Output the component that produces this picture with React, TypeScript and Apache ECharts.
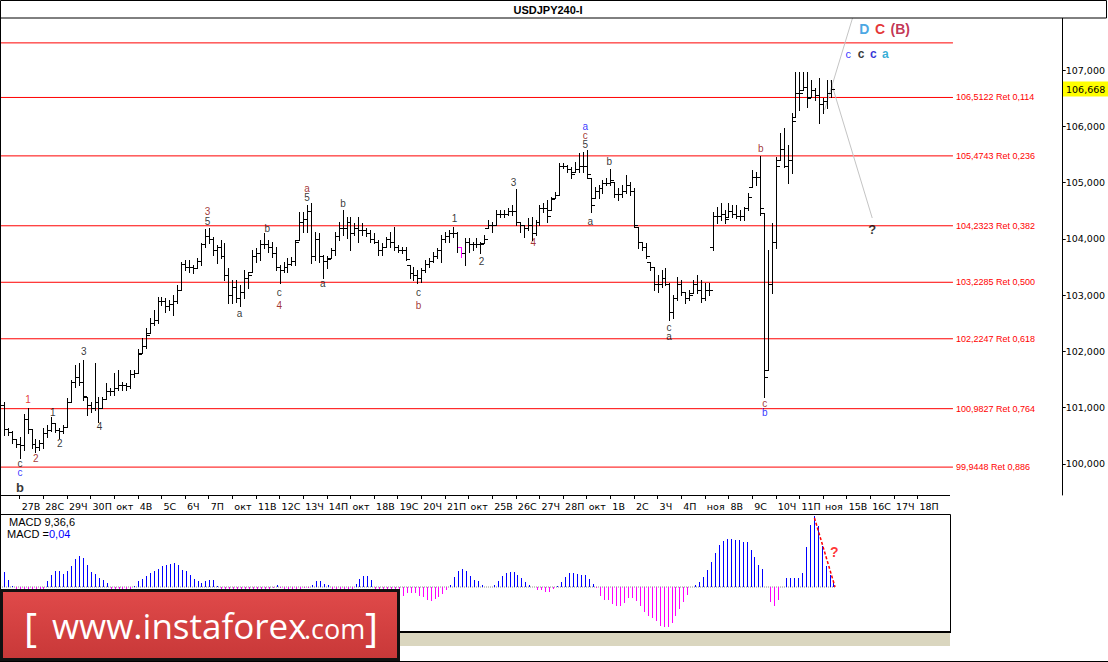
import React, { useEffect, useRef } from "react";
import * as echarts from "echarts";

// ---------- data ----------
const dayLabels = ["27В","28С","29Ч","30П","окт","4В","5С","6Ч","7П","окт","11В","12С","13Ч","14П","окт","18В","19С","20Ч","21П","окт","25В","26С","27Ч","28П","окт","1В","2С","3Ч","4П","ноя","8В","9С","10Ч","11П","ноя","15В","16С","17Ч","18П"];
const firstDayBar = 4;
const barsPerDay = 6;
const priceTicks = [100, 101, 102, 103, 104, 105, 106, 107];

const opens = [
101.05,100.62,100.56,100.45,100.35,100.33,100.80,100.62,100.35,100.30,
100.38,100.55,100.60,100.72,100.60,100.58,100.66,101.10,101.45,101.55,
101.45,101.19,101.05,101.00,101.10,101.00,101.15,101.30,101.30,101.35,
101.40,101.40,101.38,101.60,101.62,101.97,102.10,102.33,102.50,102.55,
102.90,102.90,102.80,102.85,102.90,103.10,103.55,103.50,103.50,103.48,
103.60,103.90,104.05,104.00,103.80,103.85,103.70,103.35,103.00,103.15,
102.95,103.05,103.30,103.41,103.70,103.75,103.90,103.90,103.85,103.75,
103.50,103.45,103.50,103.55,103.60,103.98,104.30,104.35,104.50,103.70,
104.00,103.70,103.60,103.66,103.80,104.05,104.20,104.20,104.30,104.10,
104.20,104.15,104.15,104.10,104.00,103.95,103.80,103.86,104.00,103.95,
103.85,103.80,103.80,103.54,103.40,103.35,103.30,103.45,103.55,103.60,
103.70,103.80,104.00,104.05,104.10,104.10,103.85,103.75,103.95,103.90,
103.90,103.90,103.93,104.19,104.25,104.25,104.45,104.45,104.45,104.50,
104.50,104.30,104.25,104.20,104.25,104.10,104.30,104.55,104.55,104.51,
104.73,104.78,105.30,105.30,105.25,105.19,105.25,105.30,105.30,105.08,
104.73,104.85,104.90,105.00,105.00,105.01,104.80,104.80,104.85,104.95,
104.85,104.21,103.95,103.85,103.59,103.50,103.20,103.20,103.30,103.20,
102.70,102.95,103.20,103.05,102.95,103.04,103.20,103.10,102.95,103.10,
103.85,104.40,104.40,104.45,104.39,104.50,104.45,104.40,104.40,104.55,
104.92,105.10,105.10,104.46,101.67,103.20,103.95,105.40,105.60,105.30,
105.40,106.17,106.60,106.64,106.70,106.52,106.65,106.55,106.40,106.45,
106.60];
const highs = [
101.10,100.64,100.58,100.45,100.48,100.89,101.00,100.62,100.45,100.43,
100.64,100.70,100.84,100.72,100.64,100.70,101.17,101.49,101.76,101.80,
101.85,101.19,101.10,101.80,101.19,101.19,101.44,101.35,101.62,101.67,
101.46,101.44,101.67,101.67,102.05,102.24,102.42,102.60,102.74,102.97,
102.97,102.95,102.91,103.00,103.18,103.59,103.63,103.63,103.54,103.66,
103.93,104.18,104.19,104.03,103.89,103.98,103.93,103.48,103.27,103.27,
103.18,103.45,103.41,103.80,103.84,103.98,104.11,103.98,103.95,103.86,
103.54,103.59,103.66,103.68,103.98,104.48,104.48,104.60,104.64,104.12,
104.11,103.71,103.70,103.84,104.12,104.30,104.51,104.39,104.39,104.28,
104.39,104.28,104.19,104.16,104.11,103.98,103.93,104.03,104.12,104.21,
103.89,103.86,103.86,103.54,103.50,103.45,103.48,103.63,103.66,103.77,
103.84,104.07,104.12,104.16,104.21,104.12,103.86,104.02,104.02,103.95,
104.02,103.95,104.07,104.34,104.30,104.51,104.51,104.51,104.55,104.60,
104.89,104.30,104.25,104.37,104.39,104.34,104.60,104.64,104.69,104.74,
104.83,105.35,105.35,105.31,105.28,105.37,105.53,105.54,105.58,105.08,
104.92,104.95,105.05,105.08,105.24,105.01,104.90,104.95,105.14,105.01,
104.90,104.21,103.95,103.93,103.59,103.50,103.36,103.45,103.48,103.22,
103.00,103.32,103.27,103.06,103.09,103.27,103.36,103.27,103.22,103.22,
104.48,104.57,104.64,104.51,104.64,104.60,104.60,104.51,104.57,104.82,
105.22,105.19,105.47,104.46,103.80,104.28,105.45,105.88,105.97,105.67,
106.24,106.96,106.96,106.96,106.96,106.82,106.68,106.86,106.50,106.82,
106.82];
const lows = [
100.52,100.52,100.38,100.30,100.11,100.25,100.55,100.29,100.22,100.25,
100.29,100.48,100.58,100.57,100.46,100.55,100.66,101.10,101.37,101.40,
101.14,100.87,100.93,100.96,100.75,101.00,101.15,101.23,101.23,101.32,
101.32,101.32,101.35,101.55,101.62,101.97,102.06,102.33,102.47,102.51,
102.83,102.70,102.74,102.65,102.86,103.09,103.45,103.41,103.39,103.48,
103.54,103.86,103.93,103.71,103.57,103.66,103.27,102.86,102.86,102.88,
102.81,102.95,103.13,103.41,103.59,103.63,103.84,103.77,103.68,103.45,
103.22,103.41,103.41,103.54,103.54,103.98,104.12,104.12,103.57,103.63,
103.59,103.30,103.48,103.66,103.71,103.98,104.07,104.02,103.80,104.07,
103.95,104.07,104.05,103.95,103.93,103.71,103.71,103.86,103.86,103.80,
103.77,103.75,103.63,103.30,103.27,103.22,103.24,103.41,103.50,103.59,
103.66,103.59,103.95,103.95,104.03,103.77,103.68,103.54,103.77,103.80,
103.86,103.75,103.93,104.19,104.12,104.25,104.39,104.39,104.43,104.43,
104.25,104.12,104.03,104.16,103.98,104.07,104.25,104.48,104.30,104.51,
104.73,104.78,105.26,105.19,105.08,105.19,105.19,105.19,105.08,104.48,
104.73,104.73,104.82,104.96,104.96,104.74,104.69,104.74,104.82,104.78,
104.21,103.84,103.80,103.66,103.45,103.09,103.06,103.15,103.18,102.56,
102.60,102.91,103.00,102.86,102.91,103.04,103.04,102.88,102.91,103.00,
103.80,104.28,104.34,104.28,104.39,104.39,104.37,104.34,104.34,104.51,
104.92,104.96,104.42,101.19,101.67,103.04,103.84,105.40,105.28,104.99,
105.17,106.17,106.29,106.64,106.34,106.52,106.47,106.06,106.24,106.33,
106.52];
const closes = [
100.62,100.56,100.45,100.35,100.33,100.80,100.62,100.35,100.30,100.38,
100.55,100.60,100.72,100.60,100.58,100.66,101.10,101.45,101.55,101.45,
101.20,101.05,101.00,101.10,101.00,101.15,101.30,101.30,101.35,101.40,
101.40,101.38,101.60,101.62,101.95,102.10,102.30,102.50,102.55,102.90,
102.90,102.80,102.85,102.90,103.10,103.55,103.50,103.50,103.48,103.60,
103.90,104.05,104.00,103.80,103.85,103.70,103.35,103.00,103.15,102.95,
103.05,103.30,103.35,103.70,103.75,103.90,103.90,103.85,103.75,103.50,
103.45,103.50,103.55,103.60,103.95,104.30,104.35,104.50,103.70,104.00,
103.70,103.60,103.65,103.80,104.05,104.20,104.20,104.30,104.10,104.20,
104.15,104.15,104.10,104.00,103.95,103.80,103.85,104.00,103.95,103.85,
103.80,103.80,103.65,103.40,103.35,103.30,103.45,103.55,103.60,103.70,
103.80,104.00,104.05,104.10,104.10,103.85,103.75,103.95,103.90,103.90,
103.90,103.90,104.00,104.25,104.25,104.45,104.45,104.45,104.50,104.50,
104.30,104.25,104.20,104.25,104.10,104.30,104.55,104.55,104.40,104.70,
104.78,105.30,105.30,105.25,105.15,105.25,105.30,105.30,105.15,104.60,
104.85,104.90,105.00,105.00,105.05,104.80,104.80,104.85,104.95,104.85,
104.25,103.95,103.85,103.70,103.50,103.20,103.20,103.30,103.20,102.70,
102.95,103.20,103.05,102.95,103.00,103.20,103.10,102.95,103.10,103.10,
104.40,104.40,104.45,104.35,104.50,104.45,104.40,104.40,104.55,104.75,
105.10,105.10,104.55,101.55,103.20,103.95,105.30,105.60,105.30,105.40,
106.10,106.60,106.60,106.70,106.50,106.65,106.55,106.40,106.45,106.60,
106.668];
const highlightBars = [116];

const macd = [
0.147,0.073,0.006,-0.03,-0.05,-0.06,-0.06,-0.07,-0.07,-0.05,
-0.02,0.057,0.123,0.157,0.157,0.13,0.163,0.207,0.283,0.313,
0.29,0.223,0.147,0.133,0.09,0.073,0.04,-0.02,-0.03,-0.04,
-0.04,-0.03,-0.02,0.013,0.057,0.08,0.113,0.14,0.157,0.18,
0.207,0.223,0.233,0.24,0.223,0.173,0.163,0.123,0.08,0.057,
0.04,0.063,0.067,0.067,0.013,-0.02,-0.04,-0.06,-0.08,-0.09,
-0.10,-0.09,-0.07,-0.06,-0.04,-0.03,-0.02,-0.02,-0.01,0.023,
-0.01,-0.02,-0.03,-0.03,-0.02,-0.02,-0.01,-0.01,0.023,0.057,
0.057,0.033,0.02,-0.02,-0.03,-0.03,-0.03,-0.02,-0.02,0.033,
0.08,0.113,0.113,0.067,-0.02,-0.03,-0.04,-0.05,-0.06,-0.07,
-0.08,-0.087,-0.06,-0.06,-0.06,-0.087,-0.10,-0.13,-0.143,-0.12,
-0.10,-0.067,-0.027,0.023,0.10,0.157,0.18,0.157,0.113,0.073,
0.057,0.023,0.005,0.005,0.023,0.063,0.113,0.14,0.153,0.153,
0.123,0.093,0.053,0.023,0.003,-0.027,-0.027,-0.047,-0.047,-0.02,
0.013,0.047,0.10,0.143,0.143,0.133,0.123,0.123,0.083,0.033,
-0.013,-0.087,-0.127,-0.133,-0.167,-0.193,-0.193,-0.16,-0.113,-0.107,
-0.143,-0.193,-0.253,-0.293,-0.31,-0.343,-0.387,-0.403,-0.403,-0.36,
-0.293,-0.217,-0.153,-0.077,0.002,0.023,0.047,0.103,0.167,0.253,
0.337,0.423,0.463,0.483,0.48,0.473,0.467,0.453,0.453,0.367,
0.297,0.223,0.183,0.002,-0.153,-0.193,-0.133,0.002,0.087,0.093,
0.09,0.087,0.137,0.397,0.623,0.707,0.613,0.407,0.207,0.117,
0.047];

const fibLevels = [107.482, 106.5122, 105.4743, 104.2323, 103.2285, 102.2247, 100.9827, 99.9448];
const fibRatios = [0, 0.114, 0.236, 0.382, 0.5, 0.618, 0.764, 0.886];
const fibEndBar = 241.0;

const lastPrice = 106.668;
const macdValueText = "0,04";
const projUp = [[208.4, 106.29], [215.5, 107.924]];
const projDown = [[209.9, 106.82], [220.5, 104.37]];
const macdTrend = [[205.2, 0.69], [210.4, 0.0]];

const K = "#000000", M = "#8b0000", B = "#0000ff", R = "#dd0000";
// [text, bar, price, color, bold, size]
const waveLabels: any[] = [
  ["1", 6.1, 101.14, R, 0, 10],
  ["c", 4.06, 100.0, K, 0, 10],
  ["c", 4.06, 99.84, B, 0, 10],
  ["b", 4.06, 99.59, K, 1, 13],
  ["2", 8.1, 100.09, M, 0, 10],
  ["1", 12.4, 100.92, K, 0, 10],
  ["2", 14.2, 100.37, K, 0, 10],
  ["3", 20.3, 101.99, K, 0, 10],
  ["4", 24.3, 100.66, K, 0, 10],
  ["3", 51.7, 104.48, M, 0, 10],
  ["5", 51.7, 104.30, K, 0, 10],
  ["a", 59.8, 102.68, K, 0, 10],
  ["b", 66.9, 104.19, K, 0, 10],
  ["c", 69.9, 103.04, K, 0, 10],
  ["4", 69.9, 102.81, M, 0, 10],
  ["a", 77.0, 104.90, M, 0, 10],
  ["5", 77.0, 104.74, K, 0, 10],
  ["a", 81.0, 103.20, K, 0, 10],
  ["b", 86.1, 104.62, K, 0, 10],
  ["c", 105.3, 103.04, K, 0, 10],
  ["b", 105.3, 102.81, M, 0, 10],
  ["1", 114.4, 104.37, K, 0, 10],
  ["2", 121.3, 103.59, K, 0, 10],
  ["3", 129.4, 105.01, K, 0, 10],
  ["4", 134.4, 103.94, M, 0, 10],
  ["a", 147.6, 105.99, B, 0, 10],
  ["c", 147.6, 105.83, M, 0, 10],
  ["5", 147.6, 105.67, K, 0, 10],
  ["b", 153.7, 105.38, K, 0, 10],
  ["a", 148.9, 104.30, K, 0, 10],
  ["c", 168.9, 102.43, K, 0, 10],
  ["a", 168.9, 102.27, K, 0, 10],
  ["b", 192.2, 105.61, M, 0, 10],
  ["c", 193.2, 101.08, M, 0, 10],
  ["b", 193.2, 100.91, B, 0, 10],
  ["?", 220.5, 104.16, K, 1, 13],
  ["c", 214.4, 107.28, B, 0, 11],
  ["c", 217.7, 107.28, K, 1, 12],
  ["c", 220.8, 107.28, "#0000cc", 1, 12],
  ["a", 223.8, 107.28, "#0099cc", 1, 12],
  ["D", 218.5, 107.73, "#1a8fdc", 1, 14],
  ["C", 222.5, 107.73, "#dd0000", 1, 14],
  ["(B)", 227.6, 107.73, "#b3002a", 1, 14],
];

const PX_PER_BAR = 3.95;

export default function App() {
  const ref = useRef<HTMLDivElement>(null);
  useEffect(() => {
    const el = ref.current!;
    const chart = echarts.init(el, null, { renderer: "svg", width: 1108, height: 662 });
    const FONT = "Liberation Sans";
    const AXF = "DejaVu Sans";
    const ohlc = opens.map((o, i) => [i, o, highs[i], lows[i], closes[i], highlightBars.includes(i) ? 1 : 0]);
    const macdData = macd.map((v, i) => [i, v]);
    const tickBars = dayLabels.map((_, k) => firstDayBar + k * barsPerDay);
    const mainW = 1066, macdW = 950;
    const xMax0 = -1 + mainW / PX_PER_BAR;
    const xMax1 = -1 + macdW / PX_PER_BAR;
    const fmtNum = (v: number, d: number) => v.toFixed(d).replace(".", ",");

    const fibSeries = fibLevels.map((lvl, k) => ({
      type: "line",
      xAxisIndex: 0, yAxisIndex: 0,
      data: [[-1, lvl], [fibEndBar, lvl]],
      symbol: "none", silent: true,
      lineStyle: { color: "#ff0000", width: 1 },
      endLabel: {
        show: k > 0,
        formatter: () => `${fmtNum(lvl, 4)} Ret ${fmtNum(fibRatios[k], 3)}`,
        color: "#ff0000", fontSize: 9, fontFamily: FONT, distance: 3,
      },
      z: 1,
    }));

    const option: any = {
      animation: false,
      backgroundColor: "#ffffff",
      textStyle: { fontFamily: FONT },
      grid: [
        { left: 0, top: 18, width: mainW, height: 477 },
        { left: 0, top: 514, width: macdW, height: 118 },
      ],
      xAxis: [
        {
          type: "value", gridIndex: 0, min: -1, max: xMax0,
          axisLine: { show: false, onZero: false },
          splitLine: { show: false },
          axisTick: { show: true, customValues: tickBars, length: 4, lineStyle: { color: "#000" } },
          axisLabel: {
            customValues: tickBars,
            formatter: (v: number) => dayLabels[Math.round((v - firstDayBar) / barsPerDay)] ?? "",
            align: "left", margin: 6, padding: [0, 0, 0, 2],
            fontSize: 9.5, fontFamily: AXF, color: "#000",
          },
        },
        { type: "value", gridIndex: 1, min: -1, max: xMax1, show: false, splitLine: { show: false } },
      ],
      yAxis: [
        {
          type: "value", gridIndex: 0, position: "right",
          min: 99.449, max: 107.924,
          axisLine: { show: true, onZero: false, lineStyle: { color: "#000", width: 1 } },
          splitLine: { show: false },
          axisTick: { show: true, customValues: priceTicks, length: 3, lineStyle: { color: "#000" } },
          axisLabel: {
            customValues: priceTicks,
            formatter: (v: number) => fmtNum(v, 3),
            margin: 3, fontSize: 9.5, fontFamily: AXF, color: "#000",
          },
        },
        { type: "value", gridIndex: 1, min: -0.45, max: 0.73, show: false, splitLine: { show: false } },
      ],
      series: [
        ...fibSeries,
        {
          type: "custom", xAxisIndex: 0, yAxisIndex: 0, silent: true,
          dimensions: ["i", "o", "h", "l", "c", "m"],
          encode: { x: 0, y: [1, 2, 3, 4] },
          data: ohlc,
          z: 3,
          renderItem: (params: any, api: any) => {
            const i = api.value(0);
            const o = api.coord([i, api.value(1)]);
            const h = api.coord([i, api.value(2)]);
            const l = api.coord([i, api.value(3)]);
            const c = api.coord([i, api.value(4)]);
            const x = Math.round(h[0]);
            const color = api.value(5) ? "#ff00ff" : "#000000";
            const yh = Math.round(h[1]), yl = Math.round(l[1]);
            const yo = Math.round(o[1]), yc = Math.round(c[1]);
            return {
              type: "group",
              children: [
                { type: "rect", shape: { x, y: yh, width: 1, height: Math.max(1, yl - yh + 1) }, style: { fill: color } },
                { type: "rect", shape: { x: x - 3, y: yo, width: 3, height: 1 }, style: { fill: color } },
                { type: "rect", shape: { x: x + 1, y: yc, width: 3, height: 1 }, style: { fill: color } },
              ],
            };
          },
        },
        {
          type: "line", xAxisIndex: 0, yAxisIndex: 0, data: projUp, symbol: "none", silent: true,
          lineStyle: { color: "#c4c4c4", width: 1 }, z: 2,
        },
        {
          type: "line", xAxisIndex: 0, yAxisIndex: 0, data: projDown, symbol: "none", silent: true,
          lineStyle: { color: "#c4c4c4", width: 1 }, z: 2,
        },
        {
          type: "scatter", xAxisIndex: 0, yAxisIndex: 0, silent: true,
          symbolSize: 0.1, itemStyle: { color: "transparent" }, z: 5,
          data: waveLabels.map((w) => ({
            value: [w[1], w[2]],
            label: {
              show: true, position: "inside", formatter: w[0], color: w[3],
              fontWeight: w[4] ? "bold" : "normal", fontSize: w[5], fontFamily: FONT,
              lineHeight: w[5] <= 10 ? 9 : w[5],
            },
          })),
        },
        {
          type: "line", xAxisIndex: 1, yAxisIndex: 1, data: [[-1, 0], [macd.length - 0.5, 0]],
          symbol: "none", silent: true, lineStyle: { color: "#909090", width: 1, type: [1, 1] }, z: 1,
        },
        {
          type: "custom", xAxisIndex: 1, yAxisIndex: 1, silent: true,
          dimensions: ["i", "v"], encode: { x: 0, y: 1 },
          data: macdData, z: 3,
          renderItem: (params: any, api: any) => {
            const i = api.value(0), v = api.value(1);
            const p0 = api.coord([i, 0]);
            const p1 = api.coord([i, v]);
            const x = Math.round(p0[0]);
            const y0 = Math.round(p0[1]), y1 = Math.round(p1[1]);
            return {
              type: "rect",
              shape: { x, y: Math.min(y0, y1), width: 1, height: Math.abs(y1 - y0) },
              style: { fill: v >= 0 ? "#0000ff" : "#ff00ff" },
            };
          },
        },
        {
          type: "line", xAxisIndex: 1, yAxisIndex: 1, data: macdTrend, symbol: "none", silent: true,
          lineStyle: { color: "#ff0000", width: 1.5, type: [3, 2] }, z: 4,
        },
        {
          type: "scatter", xAxisIndex: 1, yAxisIndex: 1, silent: true,
          symbolSize: 0.1, itemStyle: { color: "transparent" }, z: 5,
          data: [{
            value: [210.2, 0.35],
            label: { show: true, position: "inside", formatter: "?", color: "#ff0000", fontWeight: "bold", fontSize: 14, fontFamily: FONT },
          }],
        },
      ],
    };
    chart.setOption(option);

    const py = chart.convertToPixel({ yAxisIndex: 0 }, lastPrice) as number;

    const txt = (x: number, y: number, text: string, size: number, color: string, extra: any = {}) => ({
      type: "text", x, y, z: 120,
      style: {
        text, fill: color, fontSize: size, fontFamily: extra.family || FONT, fontWeight: extra.weight || "normal",
        align: extra.align || "left", textAlign: extra.align || "left",
        verticalAlign: "middle", textVerticalAlign: "middle",
      },
    });

    const graphics: any[] = [
      { type: "rect", z: 100, shape: { x: 0.5, y: 0.5, width: 1106, height: 17.5 }, style: { fill: "#fff", stroke: "#000", lineWidth: 1 } },
      txt(548, 9.5, "USDJPY240-I", 11, "#000", { weight: "bold", align: "center" }),
      { type: "line", z: 100, shape: { x1: 0.5, y1: 18, x2: 0.5, y2: 662 }, style: { stroke: "#000", lineWidth: 1 } },
      { type: "line", z: 100, shape: { x1: 0, y1: 495.5, x2: 950, y2: 495.5 }, style: { stroke: "#000", lineWidth: 1 } },
      { type: "rect", z: 100, shape: { x: 0.5, y: 514.5, width: 950, height: 117 }, style: { fill: "none", stroke: "#000", lineWidth: 1 } },
      { type: "line", z: 100, shape: { x1: 0, y1: 632, x2: 951, y2: 632 }, style: { stroke: "#000", lineWidth: 2 } },
      { type: "rect", z: 99, shape: { x: 0, y: 633, width: 950, height: 13 }, style: { fill: "#dad6bf" } },
      { type: "line", z: 100, shape: { x1: 0, y1: 661.5, x2: 1108, y2: 661.5 }, style: { stroke: "#000", lineWidth: 1 } },
      txt(9, 522, "MACD 9,36,6", 11, "#000"),
      txt(7, 534, "MACD =", 11, "#000"),
      txt(49, 534, macdValueText, 11, "#0000ff"),
      {
        type: "rect", z: 110, shape: { x: 1.5, y: 590.5, width: 397, height: 69 },
        style: {
          fill: new echarts.graphic.LinearGradient(0, 0, 0, 1, [
            { offset: 0, color: "#e04a4a" }, { offset: 1, color: "#c83838" },
          ]),
          stroke: "#111", lineWidth: 3,
        },
      },
      txt(24, 626, "[", 40, "#fff", { family: "Open Sans" }),
      txt(52, 625, "www.instaforex", 35, "#fff", { family: "Open Sans" }),
      txt(304, 628, ".com", 27, "#fff", { family: "Open Sans" }),
      txt(365, 626, "]", 40, "#fff", { family: "Open Sans" }),
      { type: "rect", z: 110, shape: { x: 1063, y: Math.round(py) - 7.5, width: 45, height: 15 }, style: { fill: "#ffff00" } },
      txt(1066, Math.round(py), fmtNum(lastPrice, 3), 9.5, "#000", { family: AXF }),
    ];
    chart.setOption({ graphic: { elements: graphics } });

    return () => chart.dispose();
  }, []);
  return <div ref={ref} style={{ position: "fixed", left: 0, top: 0, width: 1108, height: 662, background: "#fff" }} />;
}
